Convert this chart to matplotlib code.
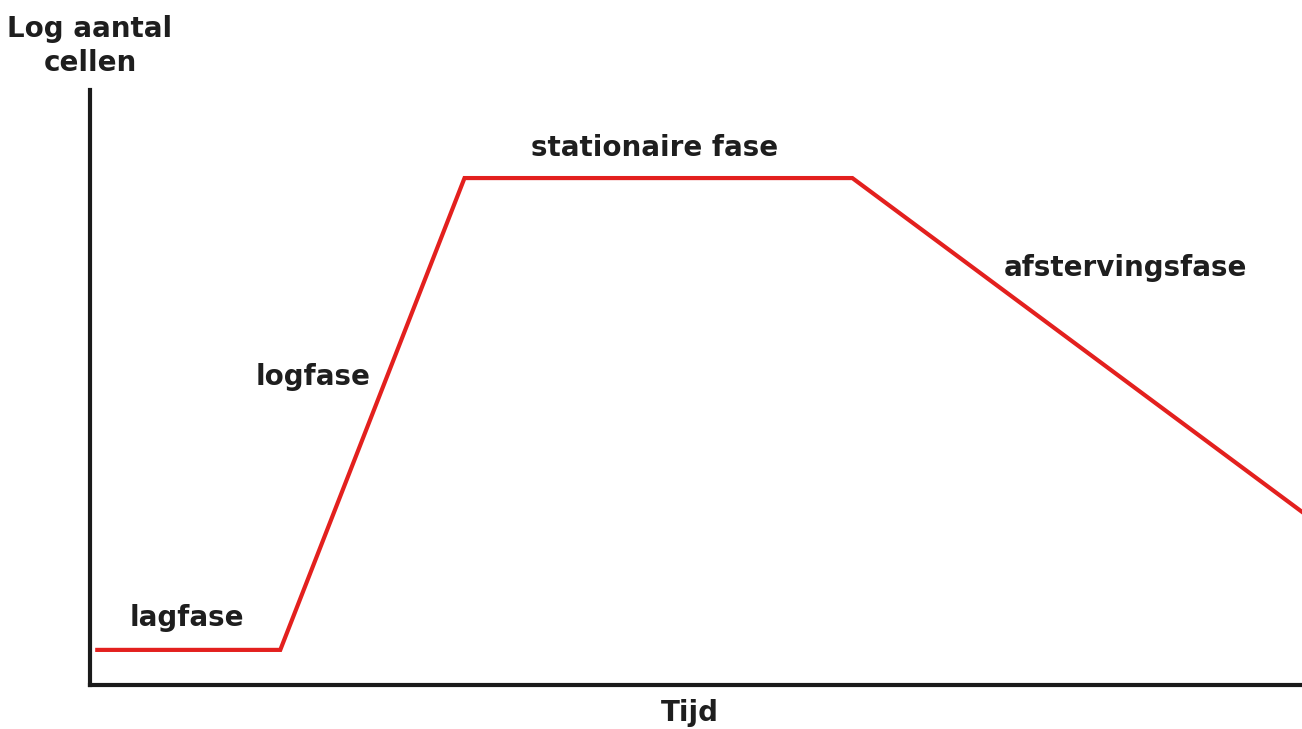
import matplotlib
matplotlib.use('Agg')
import matplotlib.pyplot as plt

# groeicurve van bacteriën (schematisch)
tijd = [0.6, 15.7, 30.9, 62.9, 100.0]
log_cellen = [5.9, 5.9, 85.2, 85.2, 29.1]

fase_labels = ['lagfase', 'logfase', 'stationaire fase', 'afstervingsfase']
fase_pos = [(8.0, 11.2), (18.4, 51.7), (46.6, 90.3), (85.4, 70.1)]

fig = plt.figure(figsize=(13.02, 7.29), dpi=100)
ax = fig.add_axes([90 / 1302, 44 / 729, 1212 / 1302, 595 / 729])

ax.plot(tijd, log_cellen, color='#e3201e', linewidth=3.0, solid_joinstyle='miter')

ax.set_xlim(0, 100)
ax.set_ylim(0, 100)
ax.set_xticks([])
ax.set_yticks([])
for side in ['top', 'right']:
    ax.spines[side].set_visible(False)
for side in ['left', 'bottom']:
    ax.spines[side].set_linewidth(3)
    ax.spines[side].set_color('#1a1a1a')

txt = dict(fontsize=20, fontweight='bold', color='#1e1e1e', ha='center', va='center')
for lab, (x, y) in zip(fase_labels, fase_pos):
    ax.text(x, y, lab, **txt)

fig.text(90 / 1302, 1 - 46 / 729, 'Log aantal\ncellen', linespacing=1.25, **txt)
fig.text(690 / 1302, 1 - 713 / 729, 'Tijd', **txt)

fig.savefig('out.png', dpi=100)
